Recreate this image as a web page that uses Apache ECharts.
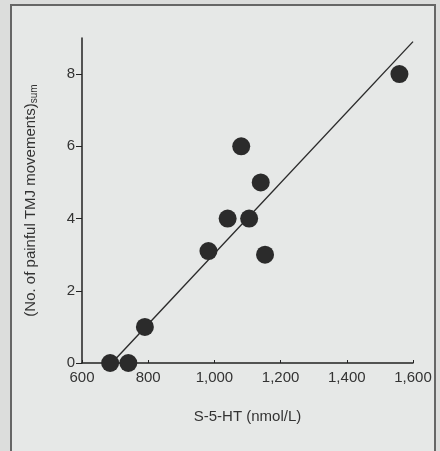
<!DOCTYPE html>
<html>
<head>
<meta charset="utf-8">
<script src="https://cdn.jsdelivr.net/npm/echarts@6/dist/echarts.min.js"></script>
<style>
  html, body { margin: 0; padding: 0; background: #dcdddc; }
  #chart { width: 440px; height: 451px; }
</style>
</head>
<body>
<div id="chart"></div>
<script>
// S-5-HT (nmol/L) vs number of painful TMJ movements
const serotonin = [685, 740, 790, 982, 1040, 1105, 1081, 1140, 1153, 1559]
const movements = [0, 0, 1, 3.1, 4, 4, 6, 5, 3, 8]

// regression line end points
const fitX = [690, 1600]
const fitY = [0, 8.9]

const yTicks = [0, 2, 4, 6, 8]

const chart = echarts.init(document.getElementById('chart'))

const font = '"Liberation Sans", Arial, sans-serif'
const ink = '#333'

chart.setOption({
  animation: false,
  backgroundColor: 'transparent',
  textStyle: { fontFamily: font },
  graphic: [
    {
      type: 'rect',
      shape: { x: 11, y: 5, width: 424, height: 460 },
      style: { fill: '#e6e8e7', stroke: '#666', lineWidth: 2 },
      z: -10
    }
  ],
  grid: {
    left: 82,
    right: 27,
    top: 38,
    bottom: 88
  },
  xAxis: {
    type: 'value',
    min: 600,
    max: 1600,
    interval: 200,
    name: 'S-5-HT (nmol/L)',
    nameLocation: 'middle',
    nameGap: 46,
    nameTextStyle: { fontSize: 15, color: ink, fontFamily: font },
    axisLine: { onZero: false, lineStyle: { color: '#222', width: 1.5 } },
    axisTick: { inside: true, length: 3, lineStyle: { color: '#222' } },
    axisLabel: {
      margin: 7,
      fontSize: 15,
      color: ink,
      fontFamily: font,
      formatter: v => v.toLocaleString('en-US')
    },
    splitLine: { show: false }
  },
  yAxis: {
    type: 'value',
    min: 0,
    max: 9,
    name: '(No. of painful TMJ movements){sub|sum}',
    nameLocation: 'middle',
    nameGap: 43,
    nameTextStyle: {
      fontSize: 15,
      color: ink,
      fontFamily: font,
      rich: {
        sub: { fontSize: 10, color: ink, fontFamily: font, verticalAlign: 'bottom', padding: [7, 0, 0, 0] }
      }
    },
    axisLine: { show: true, lineStyle: { color: '#222', width: 1.5 } },
    axisTick: { show: true, length: 6, customValues: yTicks, lineStyle: { color: '#222' } },
    axisLabel: { margin: 7, fontSize: 15, color: ink, fontFamily: font, customValues: yTicks },
    splitLine: { show: false }
  },
  series: [
    {
      type: 'line',
      data: fitX.map((x, i) => [x, fitY[i]]),
      symbol: 'none',
      lineStyle: { color: '#2a2a2a', width: 1.4 },
      z: 2
    },
    {
      type: 'scatter',
      data: serotonin.map((x, i) => [x, movements[i]]),
      symbolSize: 18,
      itemStyle: { color: '#2b2b2b', opacity: 1 },
      z: 3
    }
  ]
})
</script>
</body>
</html>
